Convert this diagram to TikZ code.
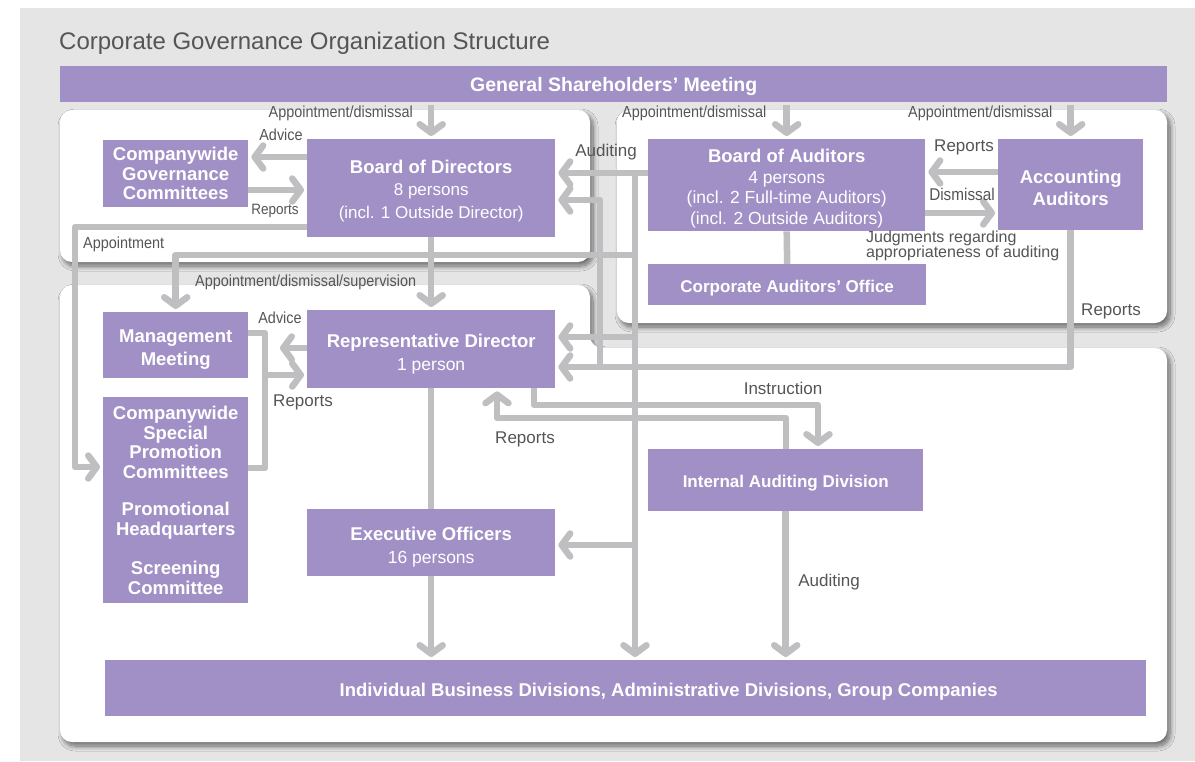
\documentclass[tikz,border=0pt]{standalone}
\usepackage{fontspec}
\setmainfont{Liberation Sans}
\newfontfamily\condfont[FakeStretch=0.9]{Liberation Sans}
\usetikzlibrary{arrows.meta,shadows.blur}
\definecolor{boxc}{HTML}{A090C6}
\definecolor{linec}{HTML}{BFBFC1}
\definecolor{labc}{HTML}{555555}
\definecolor{bgc}{HTML}{E5E5E5}
\newcommand\myup[1]{\rule{0pt}{#1pt}}
\begin{document}
\begin{tikzpicture}[x=1pt,y=-1pt,
  panel/.style={fill=white, rounded corners=12pt,
    blur shadow={shadow xshift=3pt, shadow yshift=-4pt, shadow blur radius=5pt, shadow blur steps=10, shadow opacity=55}},
  box/.style={fill=boxc, text=white, inner sep=0pt, align=center, anchor=north west},
  tfont/.style={font=\bfseries\fontsize{18.5}{#1}\selectfont},
  conn/.style={draw=linec, line width=6.5pt, line join=round},
  arr/.style={conn, -{Straight Barb[length=8.5pt,width=23pt,round]}, shorten >=3pt},
  lab/.style={text=labc, inner sep=0pt, font=\fontsize{17}{18}\selectfont},
  clab/.style={text=labc, inner sep=0pt, font=\condfont\fontsize{16}{17}\selectfont},
]
\useasboundingbox (0,0) rectangle (1195,761);
\fill[bgc] (20,8) rectangle (1195,761);

% panels
\path[panel] (60,110) rectangle (590,262);
\path[panel] (617,110) rectangle (1167,323);
\path[panel] (60,742) -- (60,285) -- (590,285) -- (590,348) -- (1167,348) -- (1167,742) -- cycle;

% title
\node[anchor=west, text=labc, inner sep=0pt, font=\fontsize{24}{28}\selectfont] (title) at (59,43) {Corporate Governance Organization Structure};

% boxes
\node[box, minimum width=1107pt, minimum height=36pt, font=\bfseries\fontsize{19.5}{22}\selectfont] (gsm) at (60,66) {\myup{18.2}General Shareholders’ Meeting};
\node[box, minimum width=145pt, minimum height=67pt, tfont=19.5] (gov) at (103,140) {Companywide\\Governance\\Committees};
\node[box, minimum width=248pt, minimum height=98pt, font=\fontsize{17}{22.5}\selectfont] (bod) at (307,139) {{\bfseries\fontsize{18.5}{22.5}\selectfont\myup{18.5}Board of Directors}\\8 persons\\(incl. 1 Outside Director)};
\node[box, minimum width=277pt, minimum height=92pt, font=\fontsize{17.5}{20.5}\selectfont] (boa) at (648,139) {{\bfseries\fontsize{18.5}{20.5}\selectfont\myup{20.5}Board of Auditors}\\4 persons\\(incl. 2 Full-time Auditors)\\(incl. 2 Outside Auditors)};
\node[box, minimum width=145pt, minimum height=91pt, tfont=22] (aa) at (998,139) {\myup{19.5}Accounting\\Auditors};
\node[box, minimum width=278pt, minimum height=41pt, font=\bfseries\fontsize{17}{20}\selectfont] (cao) at (648,264) {\myup{18.4}Corporate Auditors’ Office};
\node[box, minimum width=145pt, minimum height=66pt, tfont=23] (mm) at (103,312) {\myup{21.5}Management\\Meeting};
\node[box, minimum width=145pt, minimum height=206pt, tfont=19.5] (cspc) at (103,397) {Companywide\\Special\\Promotion\\Committees\\[18pt]Promotional\\Headquarters\\[20pt]Screening\\Committee};
\node[box, minimum width=248pt, minimum height=78pt, font=\fontsize{17.5}{23}\selectfont] (rd) at (307,310) {{\bfseries\fontsize{18.5}{23}\selectfont\myup{23.5}Representative Director}\\1 person};
\node[box, minimum width=275pt, minimum height=62pt, font=\bfseries\fontsize{17}{20}\selectfont] (iad) at (648,449) {\myup{18.4}Internal Auditing Division};
\node[box, minimum width=248pt, minimum height=67pt, font=\fontsize{17.5}{23}\selectfont] (exec) at (307,509) {{\bfseries\fontsize{18.5}{23}\selectfont\myup{22.5}Executive Officers}\\16 persons};
\node[box, minimum width=1041pt, minimum height=56pt, tfont=20] (ibd) at (105,660) {\hspace*{86pt}\myup{19.5}Individual Business Divisions, Administrative Divisions, Group Companies};

% helper coordinates
\coordinate (advG) at (0,157);
\coordinate (repG) at (0,190);
\coordinate (audT) at (635,173);
\coordinate (audR) at (635,337);
\coordinate (audE) at (635,545);
\coordinate (audM) at (635,255);
\coordinate (apA) at (75,227);
\coordinate (apB) at (75,467);
\coordinate (advR) at (277,348);
\coordinate (rpA) at (265,333);
\coordinate (rpB) at (265,468);
\coordinate (rpC) at (265,375);
\coordinate (inA) at (534,405);
\coordinate (inB) at (818,405);
\coordinate (rpD) at (786,418);
\coordinate (rpE) at (497,418);
\coordinate (aaR) at (1071,367);
\coordinate (aaU) at (600,367);
\coordinate (aaV) at (600,200);
\coordinate (rpF) at (0,172);
\coordinate (dsm) at (0,213);

% connectors
\draw[arr, shorten <=3pt] (gsm.south -| bod.north) -- (bod.north);
\draw[arr, shorten <=3pt] (gsm.south -| boa.north) -- (boa.north);
\draw[arr, shorten <=3pt] (gsm.south -| aa.north) -- (aa.north);
\draw[arr] (bod.west |- advG) -- (gov.east |- advG);
\draw[arr] (gov.east |- repG) -- (bod.west |- repG);
\draw[arr] (boa.west |- audT) -- (bod.east |- audT);
\draw[arr] (audT) -- (audT |- ibd.north);
\draw[arr] (audR) -- (rd.east |- audR);
\draw[arr] (audE) -- (exec.east |- audE);
\draw[arr] (audM) -- (mm.north |- audM) -- (mm.north);
\draw[arr] (bod.west |- apA) -- (apA) -- (apB) -- (cspc.west |- apB);
\draw[arr] (bod.south) -- (rd.north);
\draw[arr] (rd.west |- advR) -- (advR);
\draw[conn] (mm.east |- rpA) -- (rpA) -- (rpB) -- (cspc.east |- rpB);
\draw[arr] (rpC) -- (rd.west |- rpC);
\draw[arr] (rd.south -| inA) -- (inA) -- (inB) -- (iad.north -| inB);
\draw[arr] (iad.north -| rpD) -- (rpD) -- (rpE) -- (rd.south -| rpE);
\draw[conn] (rd.south) -- (exec.north);
\draw[arr] (exec.south) -- (ibd.north -| exec.south);
\draw[arr] (iad.south) -- (ibd.north -| iad.south);
\draw[arr] (aa.south) -- (aa.south |- aaR) -- (rd.east |- aaR);
\draw[arr] (aaU) -- (aaV) -- (bod.east |- aaV);
\draw[arr] (aa.west |- rpF) -- (boa.east |- rpF);
\draw[arr] (boa.east |- dsm) -- (aa.west |- dsm);
\draw[conn] (boa.south) -- (cao.north);

% labels
\node[clab, anchor=east] (l1) at (413,113) {Appointment/dismissal};
\node[clab, anchor=west] (l2) at (622,113) {Appointment/dismissal};
\node[clab, anchor=west] (l3) at (908,113) {Appointment/dismissal};
\node[clab] (l4) at (281,135) {Advice};
\node[clab, font=\condfont\fontsize{15}{16}\selectfont] (l5) at (275,211) {Reports};
\node[clab, anchor=west] (l6) at (83,244) {Appointment};
\node[clab, anchor=west] (l7) at (195,282) {Appointment/dismissal/supervision};
\node[lab] (l8) at (606,152) {Auditing};
\node[clab] (l9) at (280,318) {Advice};
\node[lab] (l10) at (303,402) {Reports};
\node[lab] (l11) at (783,388) {Instruction};
\node[lab] (l12) at (525,439) {Reports};
\node[lab] (l13) at (829,582) {Auditing};
\node[lab] (l14) at (964,147) {Reports};
\node[clab, font=\condfont\fontsize{17}{18}\selectfont] (l15) at (962,194) {Dismissal};
\node[lab, anchor=west, font=\fontsize{16}{16}\selectfont] (l16) at (866,238) {Judgments regarding};
\node[lab, anchor=west, font=\fontsize{16}{16}\selectfont] (l17) at (866,253) {appropriateness of auditing};
\node[lab] (l18) at (1111,311) {Reports};
\end{tikzpicture}
\end{document}
